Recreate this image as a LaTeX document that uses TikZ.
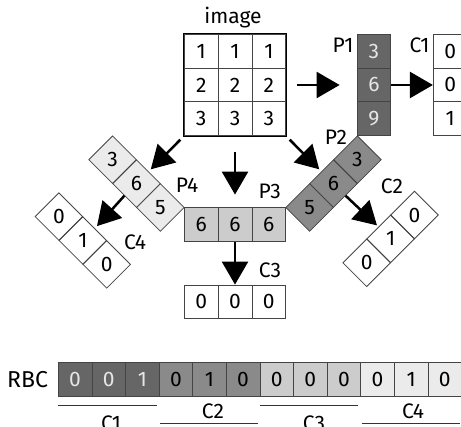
\documentclass[tikz,border=0pt]{standalone}
\usepackage{fontspec}
\setmainfont{Fira Sans}
\usetikzlibrary{arrows.meta,shapes.geometric}
\definecolor{gdark}{HTML}{666666}
\definecolor{gmid}{HTML}{8A8A8A}
\definecolor{glight}{HTML}{CCCCCC}
\definecolor{gpale}{HTML}{EBEBEB}
\definecolor{txtlight}{HTML}{E6E6E6}
\definecolor{edge}{HTML}{444444}
\begin{document}
\begin{tikzpicture}[x=1pt,y=-1pt,
  txt/.style={font=\fontsize{21}{25}\selectfont},
  cell/.style={txt, draw=edge, line width=0.8pt, minimum width=33.8pt, minimum height=33.8pt, inner sep=0pt},
  rcell/.style={cell, minimum width=33.6pt, minimum height=34.4pt},
  dcell/.style={cell, shape=diamond, aspect=1, minimum width=47.8pt, minimum height=47.8pt},
  lbl/.style={txt, inner sep=0pt},
  arr/.style={line width=2.5pt, -{Triangle[length=23pt,width=26pt]}},
  uline/.style={line width=0.8pt, black!80}]
\useasboundingbox (0,0) rectangle (461,427);
\clip (0,0) rectangle (461,427);

% image grid
\node[lbl] (imglbl) at (233,18) {image};
\node[cell] (i11) at (201.2,51.2) {1};
\node[cell] (i12) at (235,51.2) {1};
\node[cell] (i13) at (268.8,51.2) {1};
\node[cell] (i21) at (201.2,85) {2};
\node[cell] (i22) at (235,85) {2};
\node[cell] (i23) at (268.8,85) {2};
\node[cell] (i31) at (201.2,118.8) {3};
\node[cell] (i32) at (235,118.8) {3};
\node[cell] (i33) at (268.8,118.8) {3};
\draw[line width=0.9pt] (i11.north west) rectangle (i33.south east);

% P1
\node[cell, fill=gdark, text=txtlight] (p11) at (373.9,51.2) {3};
\node[cell, fill=gdark, text=txtlight] (p12) at (373.9,85) {6};
\node[cell, fill=gdark, text=txtlight] (p13) at (373.9,118.8) {9};
\node[lbl] (p1lbl) at (343,45.5) {P1};
% C1
\node[cell] (c11) at (450.2,51.2) {0};
\node[cell] (c12) at (450.2,85) {0};
\node[cell] (c13) at (450.2,118.8) {1};
\node[lbl] (c1lbl) at (419.5,45.5) {C1};

% P3
\node[cell, fill=glight] (p3a) at (201.2,224.4) {6};
\node[cell, fill=glight] (p3b) at (235,224.4) {6};
\node[cell, fill=glight] (p3c) at (268.8,224.4) {6};
\node[lbl] (p3lbl) at (269.7,191.7) {P3};
% C3
\node[cell] (c3a) at (201.2,301.9) {0};
\node[cell] (c3b) at (235,301.9) {0};
\node[cell] (c3c) at (268.8,301.9) {0};
\node[lbl] (c3lbl) at (270,270) {C3};

% P2
\node[dcell, fill=gmid] (p2a) at (309.6,207.5) {5};
\node[dcell, fill=gmid] (p2b) at (333.5,183.6) {6};
\node[dcell, fill=gmid] (p2c) at (357.4,159.7) {3};
\node[lbl] (p2lbl) at (336,137.5) {P2};
% P4
\node[dcell, fill=gpale] (p4a) at (160.4,207.5) {5};
\node[dcell, fill=gpale] (p4b) at (136.5,183.6) {6};
\node[dcell, fill=gpale] (p4c) at (112.6,159.7) {3};
\node[lbl] (p4lbl) at (187,185.5) {P4};
% C2
\node[dcell] (c2a) at (366.7,262.8) {0};
\node[dcell] (c2b) at (390.6,238.9) {1};
\node[dcell] (c2c) at (414.5,215) {0};
\node[lbl] (c2lbl) at (392,186.7) {C2};
% C4
\node[dcell] (c4a) at (106.7,264.4) {0};
\node[dcell] (c4b) at (82.8,240.5) {1};
\node[dcell] (c4c) at (58.9,216.6) {0};
\node[lbl] (c4lbl) at (135,242.5) {C4};

% arrows
\draw[arr, shorten <=11pt, shorten >=17pt] (i23.east) -- (p12.west);
\draw[arr] (p12.east) -- (c12.west);
\draw[arr, shorten <=16pt, shorten >=12.5pt] (i32.south) -- (p3b.north);
\draw[arr] (p3b.south) -- (c3b.north);
\draw[arr, shorten <=5pt, shorten >=3pt] (i31.south west) -- (p4b.north east);
\draw[arr, shorten <=5pt, shorten >=3pt] (i33.south east) -- (p2b.north west);
\draw[arr, shorten >=3pt] (p4b.south west) -- (c4b.north east);
\draw[arr, shorten >=2pt] (p2b.south east) -- (c2b.north west);

% RBC
\node[lbl, font=\fontsize{23}{26}\selectfont] (rbclbl) at (27.5,379.5) {RBC};
\node[rcell, fill=gdark, text=txtlight] (r1) at (75.1,379.5) {0};
\node[rcell, fill=gdark, text=txtlight] (r2) at (108.7,379.5) {0};
\node[rcell, fill=gdark, text=txtlight] (r3) at (142.3,379.5) {1};
\node[rcell, fill=gmid] (r4) at (175.9,379.5) {0};
\node[rcell, fill=gmid] (r5) at (209.5,379.5) {1};
\node[rcell, fill=gmid] (r6) at (243.1,379.5) {0};
\node[rcell, fill=glight] (r7) at (276.7,379.5) {0};
\node[rcell, fill=glight] (r8) at (310.3,379.5) {0};
\node[rcell, fill=glight] (r9) at (343.9,379.5) {0};
\node[rcell, fill=gpale] (r10) at (377.5,379.5) {0};
\node[rcell, fill=gpale] (r11) at (411.1,379.5) {1};
\node[rcell, fill=gpale] (r12) at (444.7,379.5) {0};

% group underlines and labels
\draw[uline] (58.3,405.7) -- (156.7,405.7);
\node[lbl] (g1) at (111,423.5) {C1};
\draw[uline] (160,423.3) -- (258.3,423.3);
\node[lbl] (g2) at (213,411.5) {C2};
\draw[uline] (260,405.7) -- (358.3,405.7);
\node[lbl] (g3) at (314,423.5) {C3};
\draw[uline] (361.7,423.3) -- (460,423.3);
\node[lbl] (g4) at (413,411.5) {C4};
\end{tikzpicture}
\end{document}
